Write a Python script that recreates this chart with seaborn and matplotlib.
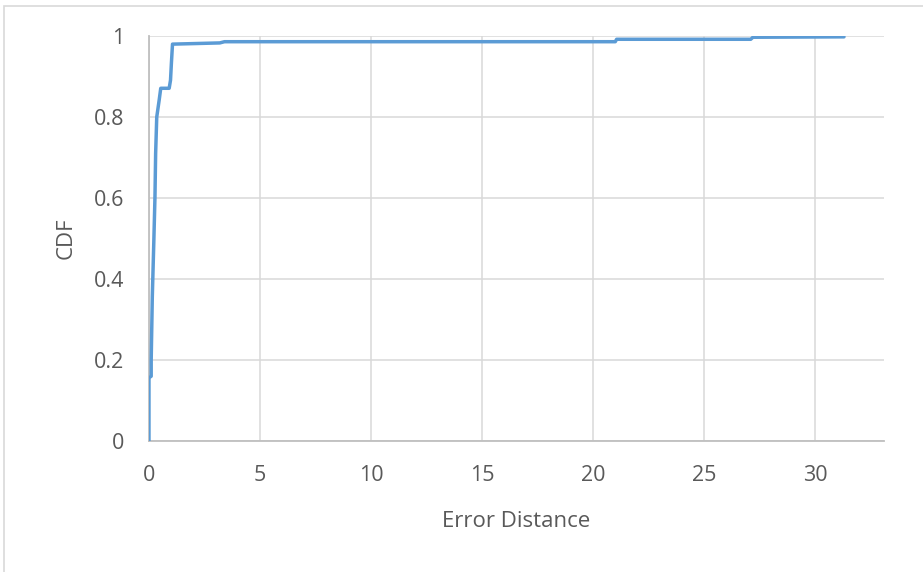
import matplotlib
matplotlib.use("Agg")
import matplotlib.pyplot as plt
import seaborn as sns
import pandas as pd
from matplotlib.patches import Rectangle

# Data (CDF of error distance)
error_distance = [0.0, 0.0, 0.10, 0.10, 0.15, 0.22, 0.27, 0.30, 0.35, 0.46, 0.53, 0.91, 0.97, 1.01, 1.06,
                  3.19, 3.40, 21.0, 21.06, 27.1, 27.2, 31.3]
cdf = [0.0, 0.156, 0.16, 0.20, 0.356, 0.496, 0.603, 0.71, 0.80, 0.842, 0.871, 0.871, 0.891, 0.933, 0.980,
       0.983, 0.986, 0.986, 0.992, 0.992, 0.997, 0.998]
x_ticks = [0, 5, 10, 15, 20, 25, 30]
y_ticks = [0, 0.2, 0.4, 0.6, 0.8, 1.0]
y_tick_labels = ["0", "0.2", "0.4", "0.6", "0.8", "1"]

sns.set_style("white")
plt.rcParams['font.family'] = ['Open Sans', 'DejaVu Sans']

df = pd.DataFrame({"Error Distance": error_distance, "CDF": cdf})

fig = plt.figure(figsize=(9.23, 5.72), dpi=100)
ax = fig.add_axes([0.1614, 0.229, 0.7963, 0.708])

sns.lineplot(data=df, x="Error Distance", y="CDF", ax=ax, sort=False, estimator=None,
             color="#5B9BD5", linewidth=2.5, zorder=3)

ax.set_xlim(0, 33.1)
ax.set_ylim(0, 1.0)
ax.set_xticks(x_ticks)
ax.set_xticklabels([str(t) for t in x_ticks])
ax.set_yticks(y_ticks)
ax.set_yticklabels(y_tick_labels)
ax.grid(True, color="#D9D9D9", linewidth=1.1)
ax.set_axisbelow(True)
for s in ["top", "right"]:
    ax.spines[s].set_visible(False)
for s in ["left", "bottom"]:
    ax.spines[s].set_color("#BFBFBF")
    ax.spines[s].set_linewidth(1.3)
ax.tick_params(axis="both", length=0, labelsize=15.5, labelcolor="#595959")
ax.tick_params(axis="x", pad=17)
ax.tick_params(axis="y", pad=18)
ax.set_xlabel("Error Distance", fontsize=16, color="#595959", labelpad=18)
ax.set_ylabel("CDF", fontsize=16, color="#595959", labelpad=12)

fig.patches.append(Rectangle((4 / 923, -0.01), 1.02, 1 - 6 / 572 + 0.01, transform=fig.transFigure,
                             fill=False, edgecolor="#D9D9D9", linewidth=1.2))

fig.savefig("out.png", dpi=100)
